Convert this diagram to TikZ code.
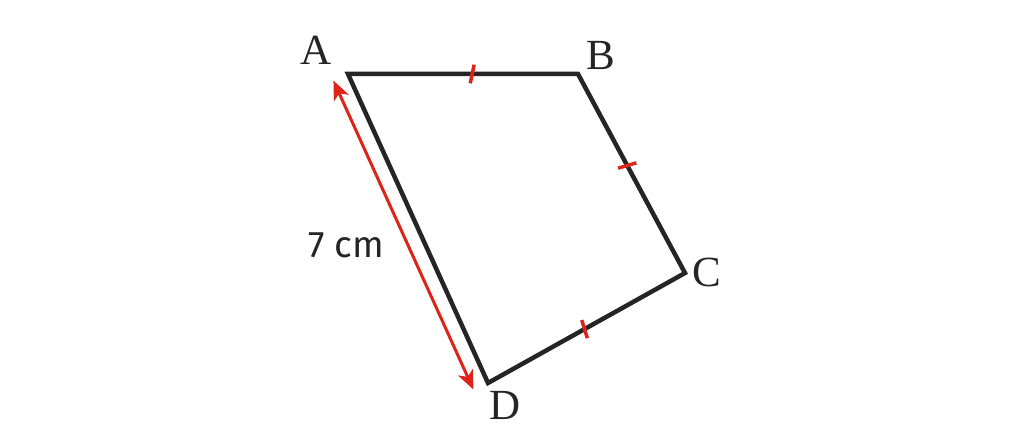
\documentclass[tikz,border=0pt]{standalone}
\usepackage{fontspec}
\setmainfont{Liberation Serif}
\newfontfamily\labelfont{Fira Sans}
\usetikzlibrary{calc}
\usetikzlibrary{arrows.meta}
\usetikzlibrary{decorations.markings}
\definecolor{inkline}{HTML}{252525}
\definecolor{inkred}{HTML}{DE2419}
\tikzset{x=1pt, y=1pt,            % One unit is one pixel of the reference
    side/.style={                 % Sides of the quadrilateral
        draw=inkline,
        line width=4.5pt,
        line join=miter},
    eqtick/.style={               % Red mark for equal sides
        postaction={decorate,
        decoration={markings,
        mark=at position #1 with {\draw[inkred, line width=3.5pt, rotate=-12] (0,-9.5) -- (0,9.5);}}}},
    eqtick/.default=0.5,
    vertex/.style={               % Vertex letters
        font=\fontsize{43}{48}\selectfont,
        text=inkline},
    measure/.style={              % Length arrow
        draw=inkred,
        line width=3pt,
        {Stealth[length=19pt,width=16pt,inset=5pt]}-{Stealth[length=19pt,width=16pt,inset=5pt]}}}

\begin{document}
\begin{tikzpicture}
        \useasboundingbox (0,0) rectangle (1024,446);

        \coordinate (A) at (348,372);
        \coordinate (B) at (578,372);
        \coordinate (C) at (685,173);
        \coordinate (D) at (488,63);

        \node[vertex] (lA) at (316,396) {A};
        \node[vertex] (lB) at (601,391) {B};
        \node[vertex] (lC) at (707,174) {C};
        \node[vertex] (lD) at (505,41) {D};
        \node[font=\labelfont\fontsize{37}{44}\selectfont, text=inkline] (len) at (346,201) {7 cm};

        \draw[side] (A) -- (B) -- (C) -- (D) -- cycle;
        \path[eqtick=0.54] (A) -- (B);
        \path[eqtick=0.46] (B) -- (C);
        \path[eqtick=0.51] (C) -- (D);

        \coordinate (mA) at ($(A)!16pt!-90:(D)$);
        \coordinate (mD) at ($(D)!16pt!90:(A)$);
        \draw[measure] (mA) -- (mD);
    \end{tikzpicture}
\end{document}
